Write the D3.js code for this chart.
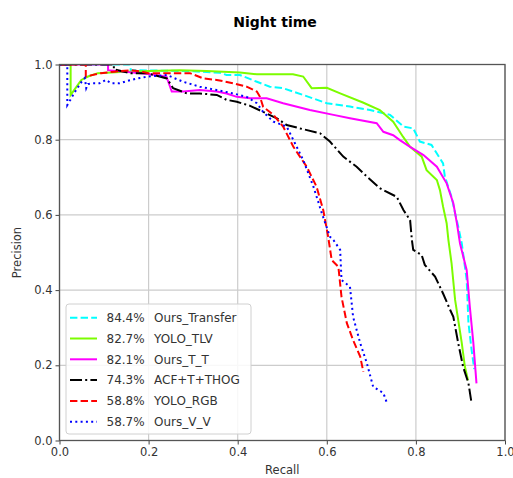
<!DOCTYPE html>
<html>
<head>
<meta charset="utf-8">
<script src="https://cdn.jsdelivr.net/npm/d3@7"></script>
<style>
  body { margin: 0; background: #fff; }
  text { font-family: "DejaVu Sans", sans-serif; }
</style>
</head>
<body>
<svg id="chart" width="513" height="478"></svg>
<script>
// Data (recall / precision pairs per method)
const methodNames = ["Ours_Transfer", "YOLO_TLV", "Ours_T_T", "ACF+T+THOG", "YOLO_RGB", "Ours_V_V"]
const apValues = ["84.4%", "82.7%", "82.1%", "74.3%", "58.8%", "58.7%"]
const tickValues = [0, 0.2, 0.4, 0.6, 0.8, 1.0]

const transferRecall = [0, 0.158, 0.16, 0.30, 0.36, 0.375, 0.405, 0.443, 0.472, 0.502, 0.547, 0.600, 0.652, 0.697, 0.742, 0.772, 0.794, 0.809, 0.835, 0.861, 0.865, 0.880, 0.888, 0.895, 0.903, 0.914, 0.918, 0.925, 0.931]
const transferPrecision = [1.0, 1.0, 0.985, 0.982, 0.978, 0.972, 0.972, 0.954, 0.941, 0.937, 0.919, 0.897, 0.888, 0.879, 0.866, 0.835, 0.830, 0.795, 0.786, 0.737, 0.702, 0.648, 0.604, 0.569, 0.524, 0.427, 0.312, 0.241, 0.19]

const tlvRecall = [0, 0.025, 0.025, 0.034, 0.049, 0.064, 0.086, 0.136, 0.203, 0.270, 0.330, 0.405, 0.443, 0.524, 0.547, 0.566, 0.600, 0.630, 0.681, 0.719, 0.749, 0.771, 0.787, 0.813, 0.824, 0.847, 0.854, 0.861, 0.869, 0.873, 0.880, 0.888, 0.895, 0.903, 0.910, 0.917]
const tlvPrecision = [1.0, 1.0, 0.919, 0.934, 0.959, 0.968, 0.977, 0.980, 0.983, 0.985, 0.983, 0.979, 0.974, 0.974, 0.968, 0.937, 0.938, 0.923, 0.899, 0.879, 0.848, 0.808, 0.781, 0.755, 0.719, 0.693, 0.666, 0.622, 0.578, 0.533, 0.472, 0.374, 0.320, 0.259, 0.196, 0.16]

const ttRecall = [0, 0.109, 0.109, 0.20, 0.24, 0.252, 0.278, 0.315, 0.353, 0.375, 0.398, 0.428, 0.465, 0.502, 0.562, 0.615, 0.652, 0.712, 0.727, 0.749, 0.764, 0.787, 0.817, 0.847, 0.869, 0.884, 0.892, 0.899, 0.914, 0.921, 0.929, 0.936]
const ttPrecision = [1.0, 1.0, 0.985, 0.975, 0.968, 0.928, 0.928, 0.932, 0.928, 0.923, 0.914, 0.910, 0.910, 0.897, 0.879, 0.866, 0.857, 0.844, 0.821, 0.812, 0.799, 0.781, 0.759, 0.728, 0.684, 0.631, 0.578, 0.524, 0.453, 0.356, 0.259, 0.152]

const acfRecall = [0, 0.122, 0.122, 0.160, 0.196, 0.241, 0.255, 0.286, 0.315, 0.353, 0.375, 0.398, 0.428, 0.457, 0.488, 0.510, 0.540, 0.585, 0.607, 0.637, 0.667, 0.690, 0.719, 0.757, 0.772, 0.787, 0.791, 0.794, 0.813, 0.820, 0.843, 0.861, 0.877, 0.884, 0.895, 0.906, 0.918, 0.925]
const acfPrecision = [1.0, 1.0, 0.987, 0.977, 0.977, 0.963, 0.937, 0.923, 0.923, 0.919, 0.906, 0.901, 0.890, 0.874, 0.857, 0.839, 0.830, 0.817, 0.795, 0.755, 0.728, 0.702, 0.671, 0.648, 0.613, 0.586, 0.533, 0.507, 0.493, 0.467, 0.436, 0.391, 0.347, 0.329, 0.259, 0.196, 0.152, 0.099]

const rgbRecall = [0, 0.059, 0.059, 0.093, 0.124, 0.161, 0.184, 0.199, 0.248, 0.293, 0.323, 0.353, 0.390, 0.420, 0.443, 0.450, 0.457, 0.480, 0.502, 0.525, 0.555, 0.577, 0.592, 0.603, 0.611, 0.626, 0.633, 0.645, 0.659, 0.675, 0.682]
const rgbPrecision = [1.0, 1.0, 0.968, 0.977, 0.981, 0.985, 0.981, 0.977, 0.977, 0.977, 0.963, 0.959, 0.950, 0.941, 0.928, 0.914, 0.888, 0.866, 0.835, 0.781, 0.728, 0.675, 0.613, 0.542, 0.480, 0.462, 0.382, 0.312, 0.267, 0.223, 0.183]

const vvRecall = [0, 0.0175, 0.0175, 0.034, 0.049, 0.057, 0.060, 0.064, 0.075, 0.090, 0.104, 0.116, 0.135, 0.154, 0.176, 0.199, 0.241, 0.278, 0.315, 0.353, 0.390, 0.420, 0.443, 0.457, 0.480, 0.510, 0.525, 0.547, 0.570, 0.589, 0.607, 0.615, 0.630, 0.633, 0.652, 0.659, 0.675, 0.690, 0.704, 0.727, 0.734]
const vvPrecision = [1.0, 1.0, 0.892, 0.926, 0.953, 0.964, 0.937, 0.948, 0.950, 0.950, 0.959, 0.950, 0.950, 0.957, 0.963, 0.968, 0.972, 0.954, 0.941, 0.932, 0.923, 0.914, 0.897, 0.874, 0.848, 0.835, 0.799, 0.746, 0.675, 0.604, 0.542, 0.533, 0.507, 0.427, 0.409, 0.329, 0.259, 0.205, 0.143, 0.126, 0.103]

const recallLists = [transferRecall, tlvRecall, ttRecall, acfRecall, rgbRecall, vvRecall]
const precisionLists = [transferPrecision, tlvPrecision, ttPrecision, acfPrecision, rgbPrecision, vvPrecision]

// Styles
const lineColors = ["#00ffff", "#7cfc00", "#ff00ff", "#000000", "#ff0000", "#0000ff"]
const lineDashes = ["7.4,3.2", null, null, "12,3.2,2,3.2", "7.4,3.2", "2,3.3"]

const svg = d3.select("#chart")
const margin = {left: 59.5, right: 8, top: 64.5, bottom: 37.5}
const W = 513, H = 478

const x = d3.scaleLinear().domain([0, 1]).range([margin.left, W - margin.right])
const y = d3.scaleLinear().domain([0, 1]).range([H - margin.bottom, margin.top])

svg.append("clipPath").attr("id", "plotclip")
    .append("rect")
    .attr("x", x(0)).attr("y", y(1))
    .attr("width", x(1) - x(0)).attr("height", y(0) - y(1))

// grid
svg.append("g")
    .selectAll("line.vg")
    .data(tickValues)
    .join("line")
    .attr("x1", d => x(d)).attr("x2", d => x(d))
    .attr("y1", y(0)).attr("y2", y(1))
    .attr("stroke", "#cccccc").attr("stroke-width", 1.2)
svg.append("g")
    .selectAll("line.hg")
    .data(tickValues)
    .join("line")
    .attr("y1", d => y(d)).attr("y2", d => y(d))
    .attr("x1", x(0)).attr("x2", x(1))
    .attr("stroke", "#cccccc").attr("stroke-width", 1.2)

// curves
const line = d3.line().x(d => x(d[0])).y(d => y(d[1]))
const plot = svg.append("g").attr("clip-path", "url(#plotclip)")
recallLists.forEach(function(rec, i){
    const pts = rec.map((r, k) => [r, precisionLists[i][k]])
    plot.append("path")
        .datum(pts)
        .attr("d", line)
        .attr("fill", "none")
        .attr("stroke", lineColors[i])
        .attr("stroke-width", 2)
        .attr("stroke-dasharray", lineDashes[i])
})

// axes
const xAxis = d3.axisBottom(x).tickValues(tickValues).tickFormat(d3.format(".1f")).tickSizeOuter(0).tickSize(4).tickPadding(3)
const yAxis = d3.axisLeft(y).tickValues(tickValues).tickFormat(d3.format(".1f")).tickSizeOuter(0).tickSize(4).tickPadding(3)
const gx = svg.append("g").attr("transform", `translate(0,${y(0)})`).call(xAxis)
const gy = svg.append("g").attr("transform", `translate(${x(0)},0)`).call(yAxis)
gx.select(".domain").remove()
gy.select(".domain").remove()
svg.selectAll(".tick text").attr("font-size", 11.5).attr("fill", "#333").style("font-family", "DejaVu Sans")
svg.selectAll(".tick line").attr("stroke", "#444")

// frame
svg.append("rect")
    .attr("x", x(0)).attr("y", y(1))
    .attr("width", x(1) - x(0)).attr("height", y(0) - y(1))
    .attr("fill", "none").attr("stroke", "#555").attr("stroke-width", 1.3)

// labels
svg.append("text").attr("x", 275).attr("y", 27)
    .attr("text-anchor", "middle").attr("font-size", 14).attr("font-weight", "bold")
    .text("Night time")
svg.append("text").attr("x", (x(0) + x(1)) / 2).attr("y", 474)
    .attr("text-anchor", "middle").attr("font-size", 11.5).attr("fill", "#333")
    .text("Recall")
svg.append("text")
    .attr("transform", `translate(21,${(y(0) + y(1)) / 2}) rotate(-90)`)
    .attr("text-anchor", "middle").attr("font-size", 11.5).attr("fill", "#333")
    .text("Precision")

// legend
const legend = svg.append("g")
legend.append("rect")
    .attr("x", 66).attr("y", 304).attr("width", 185).attr("height", 130)
    .attr("rx", 3).attr("fill", "white").attr("fill-opacity", 0.85)
    .attr("stroke", "#d0d0d0")
methodNames.forEach(function(name, i){
    const ly = 317.7 + i * 20.8
    legend.append("line")
        .attr("x1", 70).attr("x2", 97).attr("y1", ly).attr("y2", ly)
        .attr("stroke", lineColors[i]).attr("stroke-width", 2)
        .attr("stroke-dasharray", lineDashes[i])
    legend.append("text").attr("x", 106.5).attr("y", ly + 4.3)
        .attr("font-size", 12).attr("fill", "#333").text(apValues[i])
    legend.append("text").attr("x", 154).attr("y", ly + 4.3)
        .attr("font-size", 12).attr("fill", "#333").text(name)
})
</script>
</body>
</html>
